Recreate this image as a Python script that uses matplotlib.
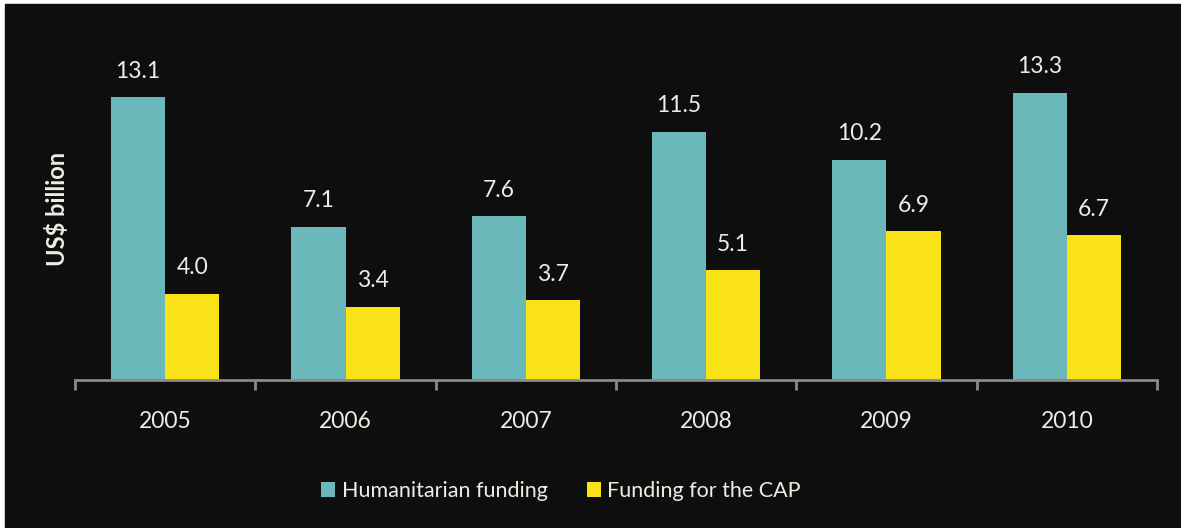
import matplotlib.pyplot as plt
from matplotlib.patches import Rectangle
import numpy as np

years = ['2005', '2006', '2007', '2008', '2009', '2010']
humanitarian = [13.1, 7.1, 7.6, 11.5, 10.2, 13.3]
cap = [4.0, 3.4, 3.7, 5.1, 6.9, 6.7]

teal = '#6ab8b9'
yellow = '#f9e216'
bg = '#0e0e0e'
txt = '#efece4'

plt.rcParams['font.family'] = ['Lato', 'DejaVu Sans']

W, H = 1181, 528
fig = plt.figure(figsize=(W / 100, H / 100), dpi=100)
fig.patch.set_facecolor('white')
# dark panel with a thin white margin on top and left
fig.patches.append(Rectangle((5 / W, 0), 1 - 5 / W, 1 - 4 / H,
                             transform=fig.transFigure, color=bg, zorder=-10))

ax = fig.add_axes([75 / W, (H - 380) / H, (1157 - 75) / W, 350 / H])
ax.set_facecolor('none')

x = np.arange(len(years))
w = 0.3
b1 = ax.bar(x - w / 2, humanitarian, w, color=teal, label='Humanitarian funding')
b2 = ax.bar(x + w / 2, cap, w, color=yellow, label='Funding for the CAP')

for bars, vals in ((b1, humanitarian), (b2, cap)):
    for r, v in zip(bars, vals):
        ax.annotate(f'{v:.1f}', (r.get_x() + r.get_width() / 2, v),
                    xytext=(0, 11), textcoords='offset points',
                    ha='center', va='bottom', color=txt, fontsize=16.5)

ax.set_xlim(-0.5, len(years) - 0.5)
ax.set_ylim(0, 350 / 21.6)

for s in ('top', 'right', 'left'):
    ax.spines[s].set_visible(False)
ax.spines['bottom'].set_color('#8a8a8a')
ax.spines['bottom'].set_linewidth(2)
ax.set_yticks([])

ax.set_xticks(np.arange(len(years) + 1) - 0.5, minor=False)
ax.set_xticklabels([])
ax.tick_params(axis='x', which='major', length=7, width=2, color='#8a8a8a')
ax.set_xticks(x, minor=True)
ax.set_xticklabels(years, minor=True)
ax.tick_params(axis='x', which='minor', length=0, pad=22, labelsize=16.5,
               labelcolor=txt)

fig.text(57 / W, 1 - 209 / H, 'US$ billion', rotation=90, ha='center',
         va='center', color=txt, fontsize=17, fontweight='bold')

leg = fig.legend(handles=[b1, b2], loc='center', bbox_to_anchor=(561 / W, 1 - 491 / H),
                 ncol=2, frameon=False, fontsize=15.5, labelcolor=txt,
                 handlelength=0.65, handleheight=0.65, handletextpad=0.3,
                 columnspacing=1.8)

fig.savefig('out.png', dpi=100, facecolor=fig.get_facecolor())
